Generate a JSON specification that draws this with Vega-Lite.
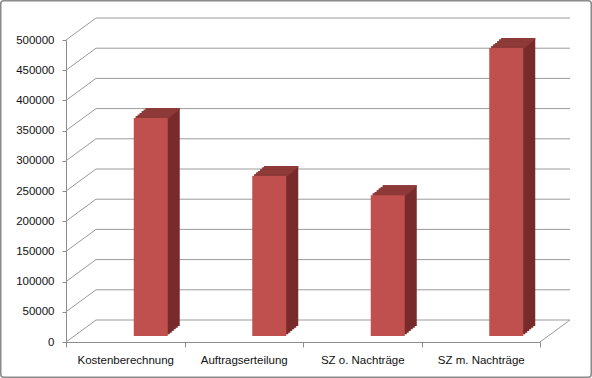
{
  "$schema": "https://vega.github.io/schema/vega-lite/v6.json",
  "width": 474,
  "height": 302,
  "autosize": {"type": "none"},
  "padding": {"left": 66, "top": 40, "right": 52, "bottom": 36},
  "background": "white",
  "config": {
    "view": {"stroke": null},
    "font": "Liberation Sans",
    "axis": {"labelFont": "Liberation Sans", "labelFontSize": 11.5, "labelColor": "#111111", "domainColor": "#8c8c8c", "tickColor": "#8c8c8c", "title": null, "grid": false, "zindex": 1, "labelOverlap": false, "labelFlush": false}
  },
  "datasets": {
    "bars": [
      {"cat": "Kostenberechnung", "val": 361000},
      {"cat": "Auftragserteilung", "val": 265000},
      {"cat": "SZ o. Nachträge", "val": 233000},
      {"cat": "SZ m. Nachträge", "val": 477000}
    ],
    "grid": [
      {"v": 0}, {"v": 50000}, {"v": 100000}, {"v": 150000}, {"v": 200000}, {"v": 250000},
      {"v": 300000}, {"v": 350000}, {"v": 400000}, {"v": 450000}, {"v": 500000}
    ]
  },
  "resolve": {"scale": {"x": "independent"}},
  "layer": [
    {
      "layer": [
        {
          "data": {"values": [{}]},
          "mark": {"type": "rect", "fill": null, "stroke": "#8a8a8a", "strokeWidth": 1.5, "cornerRadius": 3, "xOffset": -65.25, "x2Offset": 51.25, "yOffset": -39.25, "y2Offset": 35.25},
          "encoding": {
            "x": {"datum": 0, "type": "quantitative", "scale": {"domain": [0, 1]}, "axis": null},
            "x2": {"datum": 1},
            "y": {"datum": 500000, "type": "quantitative",
                  "scale": {"domain": [0, 500000], "nice": false},
                  "axis": {"values": [0, 50000, 100000, 150000, 200000, 250000, 300000, 350000, 400000, 450000, 500000], "format": "d", "tickSize": 4, "labelPadding": 8, "labelOverlap": false}},
            "y2": {"datum": 0}
          }
        },
        {
          "data": {"name": "grid"},
          "mark": {"type": "rule", "color": "#9a9a9a", "strokeWidth": 1, "xOffset": 30, "x2Offset": 30, "yOffset": -22},
          "encoding": {
            "x": {"datum": 0, "type": "quantitative", "axis": null},
            "x2": {"datum": 1},
            "y": {"field": "v", "type": "quantitative",
                  "axis": {"values": [0, 50000, 100000, 150000, 200000, 250000, 300000, 350000, 400000, 450000, 500000], "format": "d", "tickSize": 4, "labelPadding": 8, "labelOverlap": false}}
          }
        },
        {
          "data": {"name": "grid"},
          "mark": {"type": "rule", "color": "#9a9a9a", "strokeWidth": 1, "x2Offset": 30, "y2Offset": -22},
          "encoding": {
            "x": {"datum": 0, "type": "quantitative", "axis": null},
            "x2": {"datum": 0},
            "y": {"field": "v", "type": "quantitative",
                  "axis": {"values": [0, 50000, 100000, 150000, 200000, 250000, 300000, 350000, 400000, 450000, 500000], "format": "d", "tickSize": 4, "labelPadding": 8, "labelOverlap": false}},
            "y2": {"field": "v"}
          }
        },
        {
          "data": {"values": [{}]},
          "mark": {"type": "rule", "color": "#9a9a9a", "strokeWidth": 1, "x2Offset": 30, "y2Offset": -22},
          "encoding": {
            "x": {"datum": 1, "type": "quantitative", "axis": null},
            "x2": {"datum": 1},
            "y": {"datum": 0, "type": "quantitative",
                  "axis": {"values": [0, 50000, 100000, 150000, 200000, 250000, 300000, 350000, 400000, 450000, 500000], "format": "d", "tickSize": 4, "labelPadding": 8, "labelOverlap": false}},
            "y2": {"datum": 0}
          }
        }
      ]
    },
    {
      "data": {"name": "bars"},
      "encoding": {
        "x": {"field": "cat", "type": "nominal", "sort": null,
              "scale": {"paddingInner": 0, "paddingOuter": 0},
              "axis": {"labelAngle": 0, "tickBand": "extent", "tickSize": 5, "labelPadding": 7, "domainWidth": 1}},
        "y": {"field": "val", "type": "quantitative",
              "scale": {"domain": [0, 500000], "nice": false},
              "axis": {"values": [0, 50000, 100000, 150000, 200000, 250000, 300000, 350000, 400000, 450000, 500000], "format": "d", "tickSize": 4, "labelPadding": 8, "labelOverlap": false}}
      },
      "layer": [
        {"mark": {"type": "bar", "width": 34, "color": "#772b2a", "xOffset": 37.5, "yOffset": -16, "y2Offset": -16}},
        {"mark": {"type": "bar", "width": 34, "color": "#772b2a", "xOffset": 35.5, "yOffset": -14.33, "y2Offset": -14.33}},
        {"mark": {"type": "bar", "width": 34, "color": "#772b2a", "xOffset": 33.5, "yOffset": -12.67, "y2Offset": -12.67}},
        {"mark": {"type": "bar", "width": 34, "color": "#772b2a", "xOffset": 31.5, "yOffset": -11, "y2Offset": -11}},
        {"mark": {"type": "bar", "width": 34, "color": "#772b2a", "xOffset": 29.5, "yOffset": -9.33, "y2Offset": -9.33}},
        {"mark": {"type": "bar", "width": 34, "color": "#772b2a", "xOffset": 27.5, "yOffset": -7.67, "y2Offset": -7.67}},
        {"mark": {"type": "bar", "width": 34, "color": "#8d3a38", "xOffset": 37.5, "yOffset": -16, "y2Offset": -14}, "encoding": {"y2": {"field": "val"}}},
        {"mark": {"type": "bar", "width": 34, "color": "#8d3a38", "xOffset": 35.5, "yOffset": -14.33, "y2Offset": -12.33}, "encoding": {"y2": {"field": "val"}}},
        {"mark": {"type": "bar", "width": 34, "color": "#8d3a38", "xOffset": 33.5, "yOffset": -12.67, "y2Offset": -10.67}, "encoding": {"y2": {"field": "val"}}},
        {"mark": {"type": "bar", "width": 34, "color": "#8d3a38", "xOffset": 31.5, "yOffset": -11, "y2Offset": -9}, "encoding": {"y2": {"field": "val"}}},
        {"mark": {"type": "bar", "width": 34, "color": "#8d3a38", "xOffset": 29.5, "yOffset": -9.33, "y2Offset": -7.33}, "encoding": {"y2": {"field": "val"}}},
        {"mark": {"type": "bar", "width": 34, "color": "#8d3a38", "xOffset": 27.5, "yOffset": -7.67, "y2Offset": -5.67}, "encoding": {"y2": {"field": "val"}}},
        {"mark": {"type": "bar", "width": 34, "color": "#c0504d", "xOffset": 25.5, "yOffset": -6, "y2Offset": -6}}
      ]
    }
  ]
}
